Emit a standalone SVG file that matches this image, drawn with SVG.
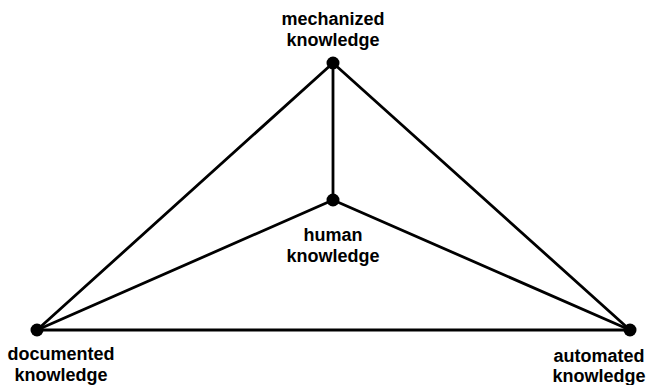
<svg xmlns="http://www.w3.org/2000/svg" width="650" height="385" viewBox="0 0 650 385">
<style>
.e{stroke:#000;stroke-width:2.8;fill:none;stroke-linecap:round}
.d{fill:#000}
.t{font-family:"Liberation Sans",Arial,sans-serif;font-size:18px;fill:#000;font-weight:bold}
</style>
<rect width="650" height="385" fill="#fff"/>
<g id="connectors">
<line class="e" x1="333" y1="63" x2="37" y2="330"/>
<line class="e" x1="333" y1="63" x2="630" y2="330"/>
<line class="e" x1="333" y1="63" x2="333" y2="200"/>
<line class="e" x1="333" y1="200" x2="37" y2="330"/>
<line class="e" x1="333" y1="200" x2="630" y2="330"/>
<line class="e" x1="37" y1="330" x2="630" y2="330"/>
</g>
<g id="mechanized">
<circle class="d" cx="333" cy="63" r="6.5"/>
<text class="t" x="333" y="25" text-anchor="middle">mechanized</text>
<text class="t" x="333" y="46" text-anchor="middle">knowledge</text>
</g>
<g id="human">
<circle class="d" cx="333" cy="200" r="6.5"/>
<text class="t" x="333" y="241" text-anchor="middle">human</text>
<text class="t" x="333" y="262" text-anchor="middle">knowledge</text>
</g>
<g id="documented">
<circle class="d" cx="37" cy="330" r="6.5"/>
<text class="t" x="61" y="360" text-anchor="middle">documented</text>
<text class="t" x="61" y="381" text-anchor="middle">knowledge</text>
</g>
<g id="automated">
<circle class="d" cx="630" cy="330" r="6.5"/>
<text class="t" x="599" y="362" text-anchor="middle">automated</text>
<text class="t" x="599" y="382" text-anchor="middle">knowledge</text>
</g>
</svg>
